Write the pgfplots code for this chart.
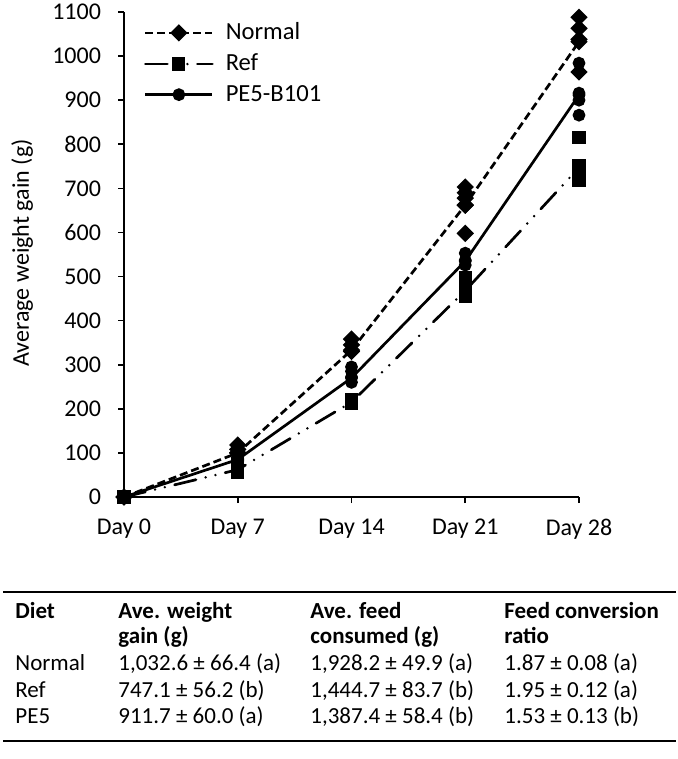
\documentclass[border=0pt]{standalone}
\usepackage{pgfplots}
\pgfplotsset{compat=1.18}
\usepackage{fontspec}
\setmainfont{Carlito}
\begin{document}
\begin{tikzpicture}
\useasboundingbox (0,0) rectangle (338.5pt,-379.5pt);
\begin{axis}[
  at={(62pt,-248.5pt)}, anchor=south west,
  scale only axis, width=227.5pt, height=242.5pt,
  clip=false,
  xmin=0, xmax=28, ymin=0, ymax=1100,
  xtick={0,7,14,21,28},
  xticklabels={Day 0,Day 7,Day 14,Day 21,Day 28},
  ytick distance=100,
  axis lines=left, axis line style={-, line width=0.8pt},
  tick align=outside, major tick length=3pt,
  tick style={black, line width=0.8pt},
  ticklabel style={font=\fontsize{12}{14}\selectfont},
  yticklabel style={/pgf/number format/assume math mode=true,
    /pgf/number format/1000 sep={}, xshift=-5pt},
  xticklabel style={yshift=-4.5pt},
  ylabel={Average weight gain (g)},
  ylabel style={font=\fontsize{12}{14}\selectfont,
    at={(axis description cs:-0.224,0.503)}, anchor=center},
  legend cell align=left,
  legend style={draw=none, fill=none, font=\fontsize{12.3}{14}\selectfont,
    at={(axis description cs:0.03,0.995)}, anchor=north west, row sep=1.6pt,
    /tikz/every odd column/.append style={column sep=4pt}},
  legend image code/.code={\draw[mark repeat=2,mark phase=2,#1]
    plot coordinates {(0pt,0pt)(16.75pt,0pt)(33.5pt,0pt)};},
  normal/.style={black, line width=1.35pt, dash pattern=on 4pt off 2pt,
    mark=square*, mark size=2.4pt, mark options={solid, rotate=45}},
  ref/.style={black, line width=1.35pt, line cap=round,
    dash pattern=on 11pt off 5pt on 0pt off 5pt on 0pt off 5pt,
    mark=square*, mark size=2.6pt, mark options={solid}},
  pe/.style={black, line width=1.35pt, solid,
    mark=*, mark size=2.5pt, mark options={solid}},
]
% group means
\addplot[normal] coordinates {(0,0) (7,100) (14,333) (21,662) (28,1032.6)};
\addlegendentry{Normal}
\addplot[ref] coordinates {(0,0) (7,62) (14,215) (21,468) (28,747.1)};
\addlegendentry{Ref}
\addplot[pe] coordinates {(0,0) (7,85) (14,270) (21,535) (28,911.7)};
\addlegendentry{PE5-B101}

% individual birds
\addplot[normal, only marks, forget plot] coordinates {
  (0,0) (7,118) (7,108) (7,100)
  (14,358) (14,345) (14,330)
  (21,703) (21,690) (21,678) (21,662) (21,598)
  (28,1088) (28,1063) (28,1038) (28,964)};
\addplot[ref, only marks, forget plot] coordinates {
  (0,0) (7,75) (7,65) (7,55)
  (14,222) (14,212)
  (21,497) (21,469) (21,454)
  (28,816) (28,751) (28,719)};
\addplot[pe, only marks, forget plot] coordinates {
  (0,0) (7,95) (7,88) (7,82)
  (14,295) (14,285) (14,272) (14,260)
  (21,553) (21,537) (21,526)
  (28,984) (28,916) (28,900) (28,866)};
\end{axis}

% summary table
\draw[line width=1.2pt] (1.5pt,-296pt) -- (338pt,-296pt);
\draw[line width=1.2pt] (1.5pt,-370.5pt) -- (338pt,-370.5pt);
\begin{scope}[every node/.style={anchor=base west, inner sep=0pt,
    font=\fontsize{11.5}{13}\selectfont}]
\node[font=\fontsize{11.5}{13}\selectfont\bfseries] at (7.5pt,-309pt) {Diet};
\node[font=\fontsize{11.5}{13}\selectfont\bfseries] at (59pt,-309pt) {Ave. weight};
\node[font=\fontsize{11.5}{13}\selectfont\bfseries] at (59pt,-321.5pt) {gain (g)};
\node[font=\fontsize{11.5}{13}\selectfont\bfseries] at (155pt,-309pt) {Ave. feed};
\node[font=\fontsize{11.5}{13}\selectfont\bfseries] at (155pt,-321.5pt) {consumed (g)};
\node[font=\fontsize{11.5}{13}\selectfont\bfseries] at (252pt,-309pt) {Feed conversion};
\node[font=\fontsize{11.5}{13}\selectfont\bfseries] at (252pt,-321.5pt) {ratio};
\node at (7.5pt,-335pt) {Normal};
\node at (59pt,-335pt) {1,032.6 ± 66.4 (a)};
\node at (155pt,-335pt) {1,928.2 ± 49.9 (a)};
\node at (252pt,-335pt) {1.87 ± 0.08 (a)};
\node at (7.5pt,-348.5pt) {Ref};
\node at (59pt,-348.5pt) {747.1 ± 56.2 (b)};
\node at (155pt,-348.5pt) {1,444.7 ± 83.7 (b)};
\node at (252pt,-348.5pt) {1.95 ± 0.12 (a)};
\node at (7.5pt,-361.5pt) {PE5};
\node at (59pt,-361.5pt) {911.7 ± 60.0 (a)};
\node at (155pt,-361.5pt) {1,387.4 ± 58.4 (b)};
\node at (252pt,-361.5pt) {1.53 ± 0.13 (b)};
\end{scope}
\end{tikzpicture}
\end{document}
